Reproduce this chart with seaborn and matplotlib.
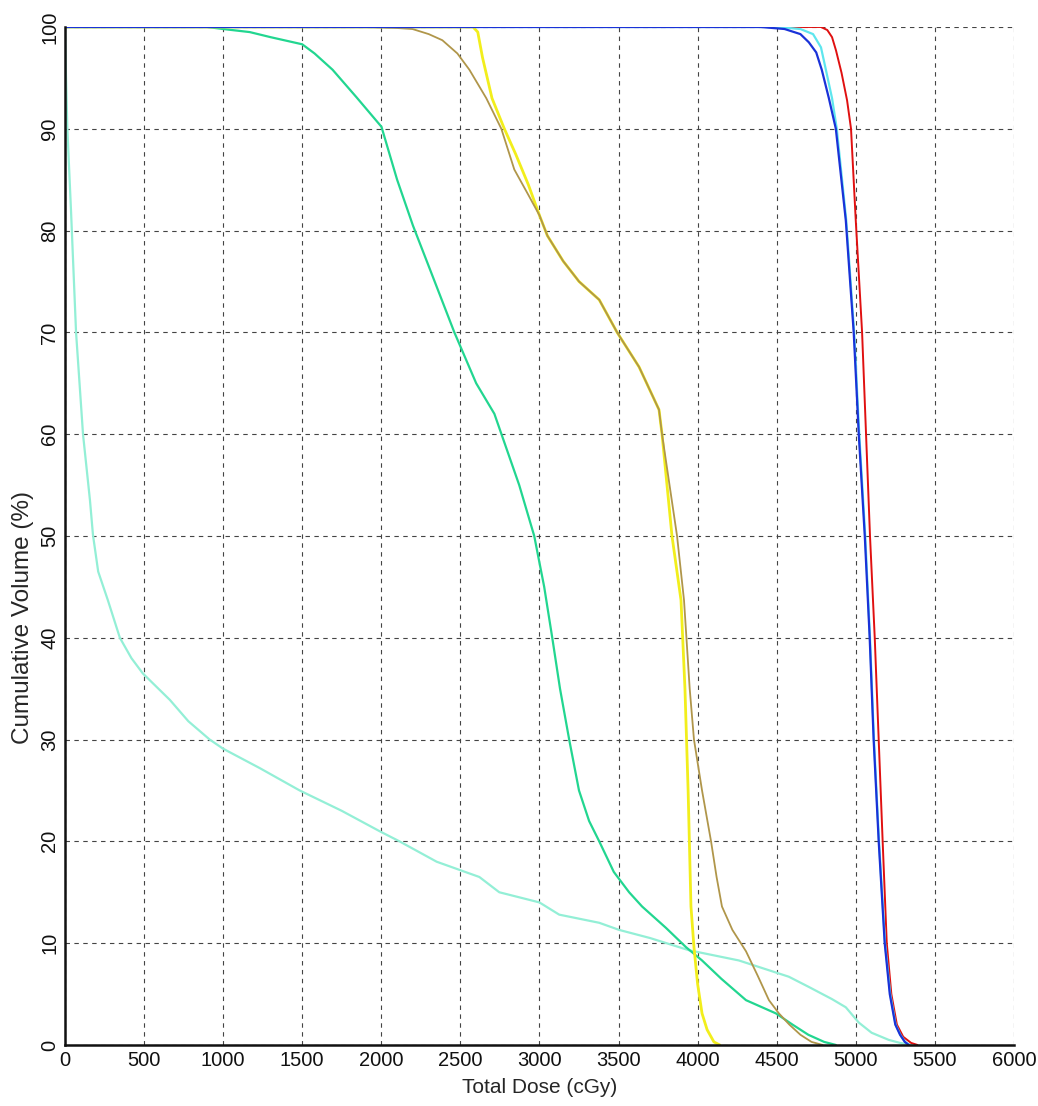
import pandas as pd
import matplotlib
matplotlib.use("Agg")
import matplotlib.pyplot as plt
import seaborn as sns

# curvas DVH (dose em cGy, volume em %)
aqua_dose = [0, 5, 15, 38, 70, 114, 158, 177, 210, 271, 347, 420, 492, 663, 780, 915, 1000, 1231, 1484, 1750,
             1989, 2115, 2350, 2620, 2746, 3000, 3125, 3378, 3504, 3700, 3946, 4261, 4577, 4703, 4850,
             4937, 5019, 5100, 5208, 5280, 5350]
aqua_vol = [100, 96, 90, 82, 70, 60, 53.5, 50.1, 46.5, 43.7, 40, 38, 36.5, 33.9, 31.8, 30, 29.1, 27.2, 25, 23,
            21, 20, 18, 16.5, 15, 14, 12.8, 12, 11.3, 10.5, 9.3, 8.3, 6.7, 5.7, 4.5,
            3.7, 2.2, 1.2, 0.5, 0.2, 0]

green_dose = [0, 900, 1000, 1168, 1300, 1500, 1578, 1692, 1843, 2001, 2100, 2200, 2300, 2462, 2600, 2715,
              2872, 2967, 3030, 3081, 3130, 3188, 3250, 3314, 3378, 3470, 3567, 3649, 3800, 3927, 4028,
              4150, 4306, 4495, 4600, 4700, 4800, 4874]
green_vol = [100, 100, 99.8, 99.5, 99, 98.3, 97.4, 95.8, 93.1, 90.2, 85, 80.5, 76.5, 70, 65, 62,
             55, 50, 45, 40, 35, 30, 25, 22, 20, 17, 15, 13.6, 11.5, 9.6, 8.3,
             6.5, 4.4, 3.1, 2, 1, 0.3, 0]

yellow_dose = [0, 2580, 2610, 2640, 2700, 2778, 2850, 2930, 3000, 3050, 3150, 3250, 3378, 3491, 3630, 3756,
               3775, 3838, 3895, 3920, 3940, 3958, 3977, 4000, 4028, 4060, 4103, 4140]
yellow_vol = [100, 100, 99.5, 97, 93, 90, 87.5, 84.5, 81.5, 79.5, 77, 75, 73.2, 70, 66.6, 62.4,
              60, 50, 43.7, 35, 25, 13.6, 9.6, 6, 3.1, 1.5, 0.3, 0]

brown_dose = [0, 1900, 2100, 2197, 2300, 2386, 2481, 2557, 2664, 2759, 2841, 2930, 3000, 3050, 3150, 3250,
              3378, 3491, 3630, 3756, 3775, 3870, 3914, 3950, 3977, 4028, 4085, 4120, 4154, 4220, 4306,
              4380, 4451, 4514, 4580, 4650, 4720, 4790]
brown_vol = [100, 100, 99.9, 99.8, 99.3, 98.7, 97.4, 95.8, 93, 90, 86, 83.5, 81.5, 79.5, 77, 75,
             73.2, 70, 66.6, 62.4, 60, 50, 43.7, 35, 30, 25, 20, 16.5, 13.6, 11.3, 9.2,
             6.8, 4.4, 3.1, 2, 1, 0.3, 0]

cyan_dose = [0, 4500, 4650, 4730, 4780, 4811, 4850, 4880, 4940, 4990, 5022, 5060, 5090, 5115, 5147, 5185,
             5218, 5252, 5282, 5312, 5340]
cyan_vol = [100, 100, 99.8, 99.3, 98, 95.8, 93, 90, 81, 70, 60, 50, 40, 30, 20, 10,
            5, 2, 1, 0.3, 0]

red_dose = [0, 4700, 4780, 4820, 4850, 4875, 4910, 4945, 4970, 5000, 5040, 5090, 5120, 5145, 5170, 5196,
            5225, 5260, 5300, 5350, 5390]
red_vol = [100, 100, 100, 99.7, 99, 97.7, 95.5, 92.8, 90, 81, 70, 50, 40, 30, 20, 10,
           5, 2, 0.8, 0.2, 0]

blue_dose = [0, 4400, 4550, 4650, 4703, 4750, 4785, 4830, 4874, 4937, 4987, 5019, 5057, 5088, 5113, 5145,
             5183, 5215, 5250, 5280, 5310, 5335]
blue_vol = [100, 100, 99.8, 99.3, 98.5, 97.5, 95.8, 93, 90, 81, 70, 60, 50, 40, 30, 20,
            10, 5, 2, 1, 0.3, 0]

curvas = [
    ("aqua", aqua_dose, aqua_vol, "#93efd6", 1.6),
    ("verde", green_dose, green_vol, "#22d690", 1.6),
    ("amarelo", yellow_dose, yellow_vol, "#f2ee1c", 2.0),
    ("marrom", brown_dose, brown_vol, "#b0964a", 1.3),
    ("vermelho", red_dose, red_vol, "#e01010", 1.4),
    ("ciano", cyan_dose, cyan_vol, "#5ee6ee", 1.6),
    ("azul", blue_dose, blue_vol, "#1a32d8", 1.6),
]

sns.set_style("white")
plt.rcParams["font.family"] = ["Liberation Sans", "DejaVu Sans"]

fig = plt.figure(figsize=(10.38, 11.06), dpi=100)
ax = fig.add_axes([0.0626, 0.0552, 0.9142, 0.9204])

for nome, dose, vol, cor, lw in curvas:
    df = pd.DataFrame({"dose": dose, "vol": vol})
    sns.lineplot(data=df, x="dose", y="vol", color=cor, linewidth=lw, sort=False,
                 estimator=None, ax=ax)

ax.set_xlim(0, 6000)
ax.set_ylim(0, 100)
ax.set_xticks(range(0, 6001, 500))
ax.set_yticks(range(0, 101, 10))
ax.grid(True, linestyle=(0, (4, 4)), color="#444444", linewidth=0.8)
ax.set_axisbelow(True)

for lado in ["top", "right"]:
    ax.spines[lado].set_visible(False)
for lado in ["left", "bottom"]:
    ax.spines[lado].set_color("#111111")
    ax.spines[lado].set_linewidth(1.8)

ax.tick_params(axis="both", direction="in", length=6, width=1.4, labelsize=14.5, colors="#111111")
ax.tick_params(axis="y", labelrotation=90, pad=4)
ax.tick_params(axis="x", pad=4)
for t in ax.get_yticklabels():
    t.set_va("center")

ax.set_xlabel("Total Dose (cGy)", fontsize=15, labelpad=6)
ax.set_ylabel("Cumulative Volume (%)", fontsize=17.5)
ax.yaxis.set_label_coords(-0.033, 0.42)

fig.savefig("out.png", dpi=100)
